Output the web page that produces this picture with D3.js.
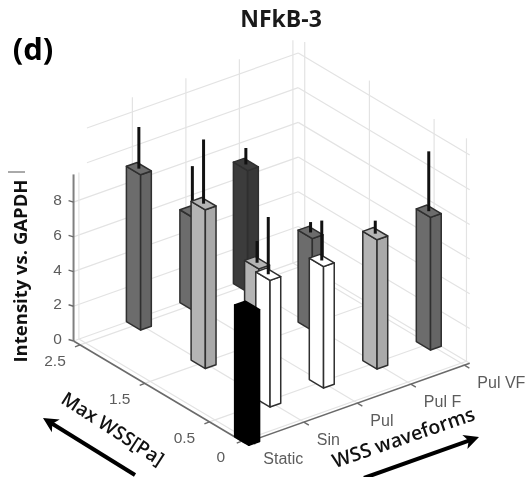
<!DOCTYPE html>
<html>
<head>
<meta charset="utf-8">
<script src="https://cdnjs.cloudflare.com/ajax/libs/d3/7.8.5/d3.min.js"></script>
<style>
body { margin: 0; background: #fff; }
svg { display: block; filter: blur(0.45px); }
</style>
</head>
<body>
<svg id="chart" width="528" height="477"></svg>
<script>
var waveforms = ["Static", "Sin", "Pul", "Pul F", "Pul VF"];
var wssTicks = [0, 0.5, 1.5, 2.5];
var intensityTicks = [0, 2, 4, 6, 8];
var gridLevels = [2, 4, 6, 8, 10, 12];

// one entry per bar, same order in all of these
var barWaveform = ["Static", "Sin", "Pul", "Pul F", "Pul VF", "Sin", "Pul", "Pul F", "Sin", "Pul", "Pul F"];
var barWss = [0, 0.5, 0.5, 0.5, 0.5, 1.5, 1.5, 1.5, 2.5, 2.5, 2.5];
var barValue = [7.6, 7.3, 7.0, 7.45, 7.65, 9.15, 4.65, 5.3, 8.95, 5.35, 7.0];
var barErrorTop = [7.6, 10.6, 9.3, 8.2, 11.1, 12.85, 5.9, 5.9, 11.35, 8.0, 7.95];
var barTone = ["black", "white", "white", "light", "mid", "light", "light", "mid", "mid", "mid", "dark"];

var tone = d3.scaleOrdinal()
    .domain(["black", "dark", "mid", "light", "white"])
    .range(["#000000", "#3c3c3c", "#6c6c6c", "#b4b4b4", "#ffffff"]);

// axis scales, range is in axis units for the projection below
var xScale = d3.scalePoint().domain(waveforms).range([0.1, 4.1]);
var wScale = d3.scaleLinear().domain([-0.05, 2.6]).range([0, 2.65]);
var zScale = d3.scaleLinear().domain([0, 1]).range([0, -17.35]);

var xEnd = 4.2;
var wEnd = 2.65;
var zTop = 12.85;
var barHalfX = 0.1;
var barHalfW = 0.11;

function project(u, v, z)
{
    return [245 + u * 53.5 - v * 64.7, 443 - u * 19 - v * 38.5 + zScale(z)];
}

var svg = d3.select("#chart");
var line = d3.line();

function drawLine(layer, a, b, color, width)
{
    layer.append("path")
        .attr("d", line([a, b]))
        .attr("fill", "none")
        .attr("stroke", color)
        .attr("stroke-width", width);
}

function drawText(str, x, y, size, opts)
{
    opts = opts || {};
    var t = svg.append("text")
        .attr("x", x)
        .attr("y", y)
        .attr("font-family", opts.family || "Liberation Sans")
        .attr("font-size", size)
        .attr("font-weight", opts.weight || 400)
        .attr("fill", opts.color || "#5c5c5c")
        .attr("text-anchor", opts.anchor || "middle")
        .attr("dominant-baseline", "middle")
        .text(str);
    if (opts.rotate !== undefined) {
        t.attr("transform", "rotate(" + opts.rotate + " " + x + " " + y + ")");
    }
    return t;
}

/* Grid on the floor and the two walls */
var grid = svg.append("g");
var gridColor = "#e3e3e3";

waveforms.forEach(function (d, i) {
    var u = xScale(d);
    drawLine(grid, project(u, 0, 0), project(u, wEnd, 0), gridColor, 1.2);
    // the first wall line is cut short in the figure
    drawLine(grid, project(u, wEnd, 0), project(u, wEnd, i === 0 ? 9.6 : zTop), gridColor, 1.2);
});

wssTicks.forEach(function (d) {
    var v = wScale(d);
    drawLine(grid, project(0, v, 0), project(xEnd, v, 0), gridColor, 1.2);
    drawLine(grid, project(xEnd, v, 0), project(xEnd, v, zTop), gridColor, 1.2);
});

drawLine(grid, project(0, wEnd, 0), project(xEnd, wEnd, 0), gridColor, 1.2);
drawLine(grid, project(xEnd, 0, 0), project(xEnd, wEnd, 0), gridColor, 1.2);

gridLevels.forEach(function (d) {
    var start = d > 9 ? 0.25 : 0;
    drawLine(grid, project(start, wEnd, d), project(xEnd, wEnd, d), gridColor, 1.2);
    drawLine(grid, project(xEnd, wEnd, d), project(xEnd, 0, d), gridColor, 1.2);
});

/* Axes */
var axes = svg.append("g");
var axisColor = "#6a6a6a";
var leftFoot = project(0, wEnd, 0);

drawLine(axes, leftFoot, project(0, wEnd, 9.6), "#808080", 2);
drawLine(axes, project(0, 0, 0), leftFoot, axisColor, 1.6);
drawLine(axes, project(0, 0, 0), project(xEnd, 0, 0), axisColor, 1.6);

intensityTicks.forEach(function (d) {
    var p = project(0, wEnd, d);
    drawLine(axes, p, [p[0] - 5, p[1] - 1.5], axisColor, 1.4);
    drawText(d, p[0] - 16, p[1] - 1, 15.5);
});

wssTicks.forEach(function (d) {
    var p = project(0, wScale(d), 0);
    drawLine(axes, p, [p[0] - 5, p[1] + 2], axisColor, 1.4);
    drawText(d, p[0] - 24 + (d === 0 ? 3 : -1), p[1] + 17, 15.5);
});

waveforms.forEach(function (d) {
    var p = project(xScale(d), 0, 0);
    drawLine(axes, p, [p[0] + 5, p[1] + 3], axisColor, 1.4);
    drawText(d, p[0] + 13, p[1] + 19, 16, {anchor: "start"});
});

/* Bars, far ones first so the near ones cover them */
var bars = barValue.map(function (d, i) {
    return {
        value: d,
        errorTop: barErrorTop[i],
        tone: barTone[i],
        u: xScale(barWaveform[i]),
        v: wScale(barWss[i])
    };
});
bars.sort(function (a, b) {
    return project(a.u, a.v, 0)[1] - project(b.u, b.v, 0)[1];
});

var barLayer = svg.append("g");
var closedLine = d3.line().curve(d3.curveLinearClosed);

function drawFace(points, fill, edge)
{
    barLayer.append("path")
        .attr("d", closedLine(points))
        .attr("fill", fill)
        .attr("stroke", edge)
        .attr("stroke-width", 1.5)
        .attr("stroke-linejoin", "round");
}

bars.forEach(function (b) {
    var left = [b.u - barHalfX, b.v + barHalfW];
    var front = [b.u - barHalfX, b.v - barHalfW];
    var right = [b.u + barHalfX, b.v - barHalfW];
    var back = [b.u + barHalfX, b.v + barHalfW];

    var fill = tone(b.tone);
    var edge = b.tone === "black" ? "#000" : "#2f2f2f";
    var side = b.tone === "white" ? fill : d3.color(fill).darker(0.18).formatHex();

    drawFace([project(left[0], left[1], 0), project(front[0], front[1], 0),
        project(front[0], front[1], b.value), project(left[0], left[1], b.value)], fill, edge);
    drawFace([project(front[0], front[1], 0), project(right[0], right[1], 0),
        project(right[0], right[1], b.value), project(front[0], front[1], b.value)], side, edge);
    drawFace([project(left[0], left[1], b.value), project(front[0], front[1], b.value),
        project(right[0], right[1], b.value), project(back[0], back[1], b.value)], fill, edge);

    if (b.errorTop > b.value) {
        drawLine(barLayer, project(b.u, b.v, b.value), project(b.u, b.v, b.errorTop), "#111", 3);
    }
});

/* Labels */
var labelFont = "Open Sans";
drawText("NFkB-3", 281, 21, 23, {family: labelFont, weight: 700, color: "#1a1a1a"});
drawText("(d)", 33, 52, 31, {family: labelFont, weight: 700, color: "#000"});
drawText("Intensity vs. GAPDH", 22, 271, 18.5, {family: labelFont, weight: 700, color: "#111", rotate: -90});
drawLine(svg, [8, 172], [25, 172], "#555", 1);
drawText("Max WSS[Pa]", 112, 430, 19, {family: labelFont, weight: 600, color: "#111", rotate: 33});
drawText("WSS waveforms", 404, 439, 19.5, {family: labelFont, weight: 600, color: "#111", rotate: -19});

/* Direction arrows */
function drawArrow(from, to)
{
    var angle = Math.atan2(to[1] - from[1], to[0] - from[0]) * 180 / Math.PI;
    var neck = [to[0] - 10 * Math.cos(angle * Math.PI / 180), to[1] - 10 * Math.sin(angle * Math.PI / 180)];
    drawLine(svg, from, neck, "#000", 4);
    svg.append("path")
        .attr("d", "M0,0L-15,-7.5L-11,0L-15,7.5Z")
        .attr("transform", "translate(" + to[0] + "," + to[1] + ") rotate(" + angle + ")")
        .attr("fill", "#000");
}

drawArrow([135, 475], [43, 418]);
drawArrow([364, 478], [479, 437]);
</script>
</body>
</html>
